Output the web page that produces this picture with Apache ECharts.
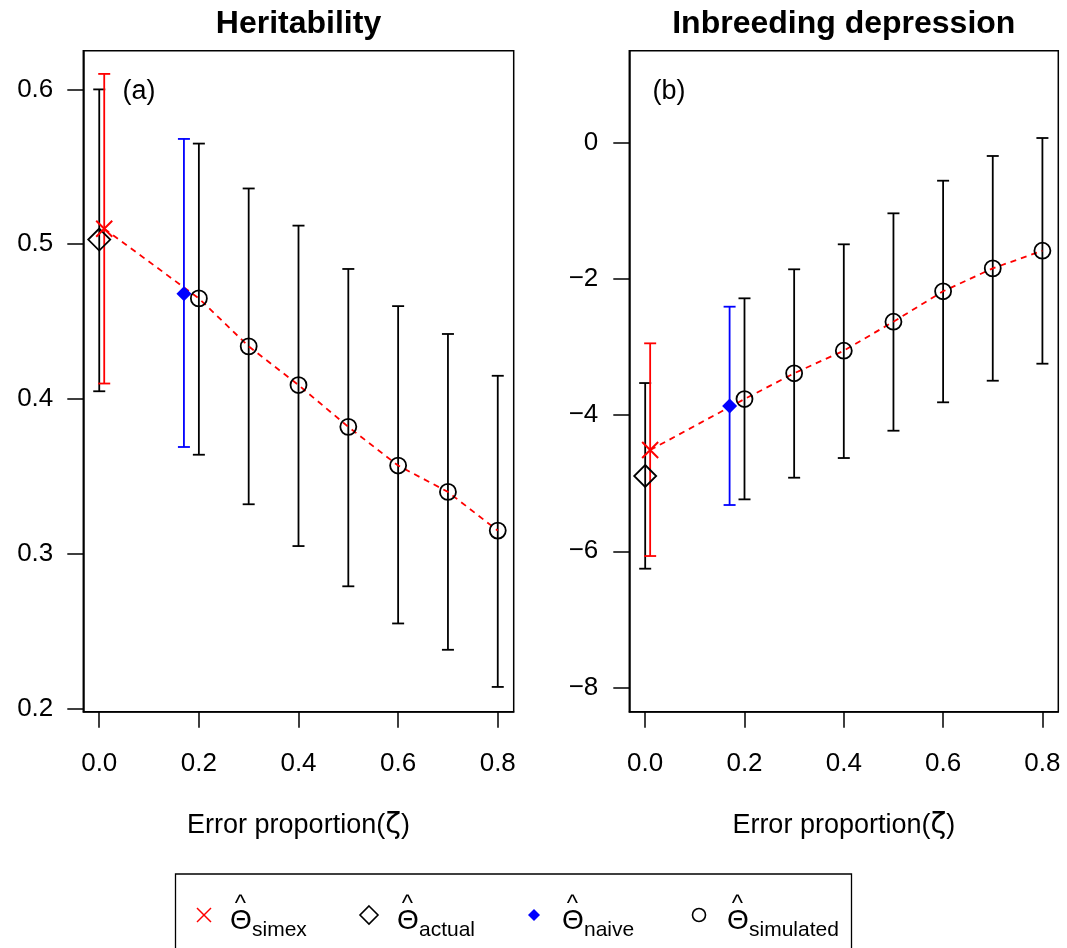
<!DOCTYPE html>
<html>
<head>
<meta charset="utf-8">
<script src="https://cdn.jsdelivr.net/npm/echarts@6/dist/echarts.min.js"></script>
<style>
  html, body { margin: 0; padding: 0; background: #fff; }
  #chart { width: 1067px; height: 948px; }
</style>
</head>
<body>
<div id="chart"></div>
<script>
// error proportion of the simulated points
const zeta = [0.2, 0.3, 0.4, 0.5, 0.6, 0.7, 0.8];
const xTicks = [0, 0.2, 0.4, 0.6, 0.8];
const simexX = 0.01;
const actualX = 0;
const naiveX = 0.17;

// (a) heritability
const h2Ticks = [0.2, 0.3, 0.4, 0.5, 0.6];
const h2Sim = [0.465, 0.434, 0.409, 0.382, 0.357, 0.340, 0.315];
const h2SimLow = [0.364, 0.332, 0.305, 0.279, 0.255, 0.238, 0.214];
const h2SimHigh = [0.565, 0.536, 0.512, 0.484, 0.460, 0.442, 0.415];
const h2Simex = [0.510, 0.410, 0.610];   // estimate, lower, upper
const h2Actual = [0.503, 0.405, 0.600];
const h2Naive = [0.468, 0.369, 0.568];

// (b) inbreeding depression
const idTicks = [-8, -6, -4, -2, 0];
const idSim = [-3.764, -3.386, -3.054, -2.628, -2.182, -1.845, -1.586];
const idSimLow = [-5.237, -4.919, -4.630, -4.229, -3.812, -3.495, -3.245];
const idSimHigh = [-2.285, -1.859, -1.492, -1.037, -0.558, -0.195, 0.069];
const idSimex = [-4.513, -6.069, -2.946];
const idActual = [-4.894, -6.255, -3.529];
const idNaive = [-3.866, -5.320, -2.408];

const FONT = '"Liberation Sans", Arial, Helvetica, sans-serif';

const chart = echarts.init(document.getElementById('chart'));

function errorBars(color) {
  return function (params, api) {
    const x = api.value(0);
    const lo = api.coord([x, api.value(1)]);
    const hi = api.coord([x, api.value(2)]);
    const w = 6;
    const style = { stroke: color, lineWidth: 1.8 };
    return {
      type: 'group',
      children: [
        { type: 'line', shape: { x1: lo[0], y1: lo[1], x2: hi[0], y2: hi[1] }, style: style },
        { type: 'line', shape: { x1: lo[0] - w, y1: lo[1], x2: lo[0] + w, y2: lo[1] }, style: style },
        { type: 'line', shape: { x1: hi[0] - w, y1: hi[1], x2: hi[0] + w, y2: hi[1] }, style: style }
      ]
    };
  };
}

const crossPath = 'path://M0,0L10,10M0,10L10,0';

// all series for one panel
function panelSeries(idx, sim, simLow, simHigh, simex, actual, naive) {
  const ax = { xAxisIndex: idx, yAxisIndex: idx, silent: true };
  return [
    Object.assign({
      type: 'custom', renderItem: errorBars('#000'), z: 2,
      data: zeta.map((x, i) => [x, simLow[i], simHigh[i]]).concat([[actualX, actual[1], actual[2]]])
    }, ax),
    Object.assign({
      type: 'custom', renderItem: errorBars('#ff0000'), z: 2,
      data: [[simexX, simex[1], simex[2]]]
    }, ax),
    Object.assign({
      type: 'custom', renderItem: errorBars('#0000ff'), z: 2,
      data: [[naiveX, naive[1], naive[2]]]
    }, ax),
    Object.assign({
      type: 'line', z: 3, showSymbol: false,
      data: [[simexX, simex[0]]].concat(zeta.map((x, i) => [x, sim[i]])),
      lineStyle: { color: '#ff0000', width: 1.8, type: [6, 5] }
    }, ax),
    Object.assign({
      type: 'scatter', z: 4, symbol: 'circle', symbolSize: 16,
      data: zeta.map((x, i) => [x, sim[i]]),
      itemStyle: { color: 'rgba(0,0,0,0)', borderColor: '#000', borderWidth: 1.8, opacity: 1 }
    }, ax),
    Object.assign({
      type: 'scatter', z: 4, symbol: 'diamond', symbolSize: 22,
      data: [[actualX, actual[0]]],
      itemStyle: { color: 'rgba(0,0,0,0)', borderColor: '#000', borderWidth: 1.8, opacity: 1 }
    }, ax),
    Object.assign({
      type: 'scatter', z: 4, symbol: 'diamond', symbolSize: 15,
      data: [[naiveX, naive[0]]],
      itemStyle: { color: '#0000ff', opacity: 1 }
    }, ax),
    Object.assign({
      type: 'scatter', z: 4, symbol: crossPath, symbolSize: 16,
      data: [[simexX, simex[0]]],
      itemStyle: { color: 'rgba(0,0,0,0)', borderColor: '#ff0000', borderWidth: 2, opacity: 1 }
    }, ax)
  ];
}

function xAxisOpt(idx) {
  return {
    gridIndex: idx, type: 'value', min: -0.032, max: 0.832,
    name: 'Error proportion({z|ζ})', nameLocation: 'middle', nameGap: 99,
    nameTextStyle: {
      fontSize: 27, color: '#000', fontFamily: FONT,
      rich: { z: { fontSize: 29, color: '#000', fontFamily: '"DejaVu Sans", sans-serif' } }
    },
    splitLine: { show: false },
    axisLine: { show: true, onZero: false, lineStyle: { color: '#000', width: 1.5 } },
    axisTick: { show: true, length: 16, customValues: xTicks, lineStyle: { color: '#000', width: 1.5 } },
    axisLabel: { customValues: xTicks, formatter: v => v.toFixed(1), fontSize: 26, color: '#000', fontFamily: FONT, margin: 39 }
  };
}

function yAxisOpt(idx, min, max, ticks, fmt, margin) {
  return {
    gridIndex: idx, type: 'value', min: min, max: max,
    splitLine: { show: false },
    axisLine: { show: true, onZero: false, lineStyle: { color: '#000', width: 1.5 } },
    axisTick: { show: true, length: 16, customValues: ticks, lineStyle: { color: '#000', width: 1.5 } },
    axisLabel: { customValues: ticks, formatter: fmt, fontSize: 26, color: '#000', fontFamily: FONT, margin: margin }
  };
}

// legend drawn as graphic elements (hat over theta)
const legendItems = [
  { sub: 'simex', tx: 230 },
  { sub: 'actual', tx: 397 },
  { sub: 'naive', tx: 562 },
  { sub: 'simulated', tx: 727 }
];
const legendSymbols = [
  { type: 'line', shape: { x1: 197, y1: 908, x2: 211, y2: 922 }, style: { stroke: '#ff0000', lineWidth: 1.5 } },
  { type: 'line', shape: { x1: 197, y1: 922, x2: 211, y2: 908 }, style: { stroke: '#ff0000', lineWidth: 1.5 } },
  { type: 'polygon', shape: { points: [[369, 906], [378, 915], [369, 924], [360, 915]] }, style: { stroke: '#000', lineWidth: 1.6, fill: null } },
  { type: 'polygon', shape: { points: [[534, 909], [540, 915], [534, 921], [528, 915]] }, style: { fill: '#0000ff' } },
  { type: 'circle', shape: { cx: 699, cy: 915, r: 6.5 }, style: { stroke: '#000', lineWidth: 1.6, fill: null } }
];
const legendGraphics = [
  { type: 'rect', shape: { x: 175.5, y: 874, width: 676, height: 100 }, style: { stroke: '#000', lineWidth: 1.3, fill: null } }
].concat(legendSymbols);
legendItems.forEach(it => {
  legendGraphics.push({ type: 'text', x: it.tx + 10.5, y: 904, style: { text: '^', font: '24px ' + FONT, fill: '#000', textAlign: 'center', textVerticalAlign: 'middle' } });
  legendGraphics.push({ type: 'text', x: it.tx, y: 921, style: { text: 'Θ', font: '28px ' + FONT, fill: '#000', textAlign: 'left', textVerticalAlign: 'middle' } });
  legendGraphics.push({ type: 'text', x: it.tx + 22, y: 930, style: { text: it.sub, font: '21px ' + FONT, fill: '#000', textAlign: 'left', textVerticalAlign: 'middle' } });
});

const option = {
  animation: false,
  backgroundColor: '#fff',
  grid: [
    { left: 83.3, top: 50.7, width: 430.4, height: 661, show: true, borderColor: '#000', borderWidth: 1.5, backgroundColor: 'transparent' },
    { left: 629.3, top: 50.7, width: 429, height: 661, show: true, borderColor: '#000', borderWidth: 1.5, backgroundColor: 'transparent' }
  ],
  xAxis: [xAxisOpt(0), xAxisOpt(1)],
  yAxis: [
    yAxisOpt(0, 0.198, 0.625, h2Ticks, v => v.toFixed(1), 30),
    yAxisOpt(1, -8.355, 1.351, idTicks, v => (v < 0 ? '\u2212' + Math.abs(v) : String(v)), 31)
  ],
  graphic: [
    { type: 'text', x: 298.5, y: 24, style: { text: 'Heritability', font: 'bold 32px ' + FONT, fill: '#000', textAlign: 'center', textVerticalAlign: 'middle' } },
    { type: 'text', x: 843.8, y: 24, style: { text: 'Inbreeding depression', font: 'bold 32px ' + FONT, fill: '#000', textAlign: 'center', textVerticalAlign: 'middle' } },
    { type: 'text', x: 139, y: 92, style: { text: '(a)', font: '27px ' + FONT, fill: '#000', textAlign: 'center', textVerticalAlign: 'middle' } },
    { type: 'text', x: 669, y: 92, style: { text: '(b)', font: '27px ' + FONT, fill: '#000', textAlign: 'center', textVerticalAlign: 'middle' } }
  ].concat(legendGraphics),
  series: panelSeries(0, h2Sim, h2SimLow, h2SimHigh, h2Simex, h2Actual, h2Naive)
    .concat(panelSeries(1, idSim, idSimLow, idSimHigh, idSimex, idActual, idNaive))
};

chart.setOption(option);
</script>
</body>
</html>
